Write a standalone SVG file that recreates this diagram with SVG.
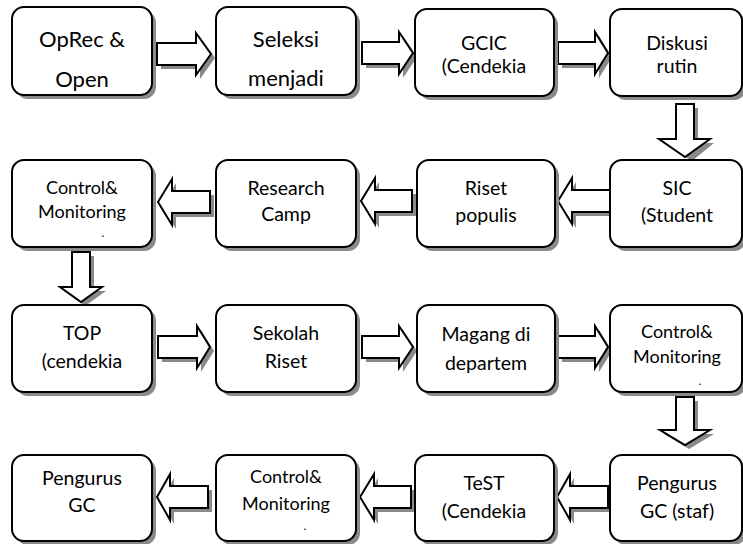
<svg xmlns="http://www.w3.org/2000/svg" width="743" height="544" viewBox="0 0 743 544">
<style>
.box{fill:#fff;stroke:#000;stroke-width:2}
.sh{fill:#8a8a8a;stroke:none}
.arr{fill:#fff;stroke:#000;stroke-width:2;stroke-linejoin:miter}
text{font-family:Lato,"Liberation Sans",sans-serif;fill:#000;text-anchor:middle}
.big{font-size:22px}
.md{font-size:19.5px}
.sm{font-size:18px}
.dot{font-size:12px}
</style>
<rect width="743" height="544" fill="#fff"/>
<g id="connectors">
<g class="sh">
<path d="M161,47H200V37L215,58L200,79V69H161Z"/>
<path d="M366,46H403V36L417,57L403,78V68H366Z"/>
<path d="M562,46H599V36L612,57L599,78V68H562Z"/>
<path d="M680,108V143H663L692,161L714,143H698V108Z"/>
<path d="M614,194H576V182L562,205L576,228V216H614Z"/>
<path d="M416,194H379V182L365,205L379,228V216H416Z"/>
<path d="M214,195H176V183L162,206L176,229V217H214Z"/>
<path d="M76,256V291H64L85,306L106,291H94V256Z"/>
<path d="M162,340H201V330L214,351L201,372V362H162Z"/>
<path d="M366,340H403V330L417,351L403,372V362H366Z"/>
<path d="M562,340H599V330L612,351L599,372V362H562Z"/>
<path d="M680,401V434H664L689,449L714,434H698V401Z"/>
<path d="M612,490H574V478L561,501L574,524V512H612Z"/>
<path d="M415,490H378V478L364,501L378,524V512H415Z"/>
<path d="M212,490H174V478L161,501L174,524V512H212Z"/>
</g>
<path class="arr" d="M157,43H196V33L211,54L196,75V65H157Z"/>
<path class="arr" d="M362,42H399V32L413,53L399,74V64H362Z"/>
<path class="arr" d="M558,42H595V32L608,53L595,74V64H558Z"/>
<path class="arr" d="M676,104V139H659L685,157L710,139H694V104Z"/>
<path class="arr" d="M610,190H572V178L558,201L572,224V212H610Z"/>
<path class="arr" d="M412,190H375V178L361,201L375,224V212H412Z"/>
<path class="arr" d="M210,191H172V179L158,202L172,225V213H210Z"/>
<path class="arr" d="M72,252V287H60L81,302L102,287H90V252Z"/>
<path class="arr" d="M158,336H197V326L210,347L197,368V358H158Z"/>
<path class="arr" d="M362,336H399V326L413,347L399,368V358H362Z"/>
<path class="arr" d="M558,336H595V326L608,347L595,368V358H558Z"/>
<path class="arr" d="M676,397V430H660L685,445L710,430H694V397Z"/>
<path class="arr" d="M608,486H570V474L557,497L570,520V508H608Z"/>
<path class="arr" d="M411,486H374V474L360,497L374,520V508H411Z"/>
<path class="arr" d="M208,486H170V474L157,497L170,520V508H208Z"/>
</g>
<g id="n1"><rect class="sh" x="16" y="11" width="140" height="88" rx="12"/><rect class="box" x="12" y="7" width="140" height="88" rx="12"/><text class="big" x="82" y="47">OpRec &amp;</text><text class="big" x="82" y="87">Open</text></g>
<g id="n2"><rect class="sh" x="220" y="11" width="140" height="88" rx="12"/><rect class="box" x="216" y="7" width="140" height="88" rx="12"/><text class="big" x="286" y="47">Seleksi</text><text class="big" x="286" y="86">menjadi</text></g>
<g id="n3"><rect class="sh" x="419" y="13" width="139" height="87" rx="12"/><rect class="box" x="415" y="9" width="139" height="87" rx="12"/><text class="md" x="484" y="50">GCIC</text><text class="md" x="484" y="73">(Cendekia</text></g>
<g id="n4"><rect class="sh" x="614" y="13" width="132" height="87" rx="12"/><rect class="box" x="610" y="9" width="132" height="87" rx="12"/><text class="md" x="677" y="50">Diskusi</text><text class="md" x="677" y="73">rutin</text></g>
<g id="n5"><rect class="sh" x="16" y="164" width="140" height="87" rx="12"/><rect class="box" x="12" y="160" width="140" height="87" rx="12"/><text class="sm" x="82" y="194">Control&amp;</text><text class="sm" x="82" y="218">Monitoring</text><text class="dot" x="103" y="237">.</text></g>
<g id="n6"><rect class="sh" x="220" y="164" width="140" height="87" rx="12"/><rect class="box" x="216" y="160" width="140" height="87" rx="12"/><text class="md" x="286" y="195">Research</text><text class="md" x="286" y="221">Camp</text></g>
<g id="n7"><rect class="sh" x="421" y="164" width="138" height="87" rx="12"/><rect class="box" x="417" y="160" width="138" height="87" rx="12"/><text class="md" x="486" y="195">Riset</text><text class="md" x="486" y="222">populis</text></g>
<g id="n8"><rect class="sh" x="614" y="164" width="132" height="87" rx="12"/><rect class="box" x="610" y="160" width="132" height="87" rx="12"/><text class="md" x="677" y="195">SIC</text><text class="md" x="677" y="222">(Student</text></g>
<g id="n9"><rect class="sh" x="16" y="309" width="140" height="87" rx="12"/><rect class="box" x="12" y="305" width="140" height="87" rx="12"/><text class="md" x="82" y="340">TOP</text><text class="md" x="82" y="368">(cendekia</text></g>
<g id="n10"><rect class="sh" x="220" y="309" width="140" height="87" rx="12"/><rect class="box" x="216" y="305" width="140" height="87" rx="12"/><text class="md" x="286" y="340">Sekolah</text><text class="md" x="286" y="368">Riset</text></g>
<g id="n11"><rect class="sh" x="421" y="309" width="138" height="87" rx="12"/><rect class="box" x="417" y="305" width="138" height="87" rx="12"/><text class="md" x="486" y="341">Magang di</text><text class="md" x="486" y="370">departem</text></g>
<g id="n12"><rect class="sh" x="614" y="309" width="132" height="87" rx="12"/><rect class="box" x="610" y="305" width="132" height="87" rx="12"/><text class="sm" x="677" y="338">Control&amp;</text><text class="sm" x="677" y="363">Monitoring</text><text class="dot" x="700" y="385">.</text></g>
<g id="n13"><rect class="sh" x="16" y="459" width="140" height="86" rx="12"/><rect class="box" x="12" y="455" width="140" height="86" rx="12"/><text class="md" x="82" y="485">Pengurus</text><text class="md" x="82" y="512">GC</text></g>
<g id="n14"><rect class="sh" x="220" y="459" width="140" height="86" rx="12"/><rect class="box" x="216" y="455" width="140" height="86" rx="12"/><text class="sm" x="286" y="483">Control&amp;</text><text class="sm" x="286" y="510">Monitoring</text><text class="dot" x="305" y="530">.</text></g>
<g id="n15"><rect class="sh" x="419" y="459" width="139" height="86" rx="12"/><rect class="box" x="415" y="455" width="139" height="86" rx="12"/><text class="md" x="484" y="490">TeST</text><text class="md" x="484" y="518">(Cendekia</text></g>
<g id="n16"><rect class="sh" x="614" y="459" width="132" height="86" rx="12"/><rect class="box" x="610" y="455" width="132" height="86" rx="12"/><text class="md" x="677" y="490">Pengurus</text><text class="md" x="677" y="518">GC (staf)</text></g>
</svg>
